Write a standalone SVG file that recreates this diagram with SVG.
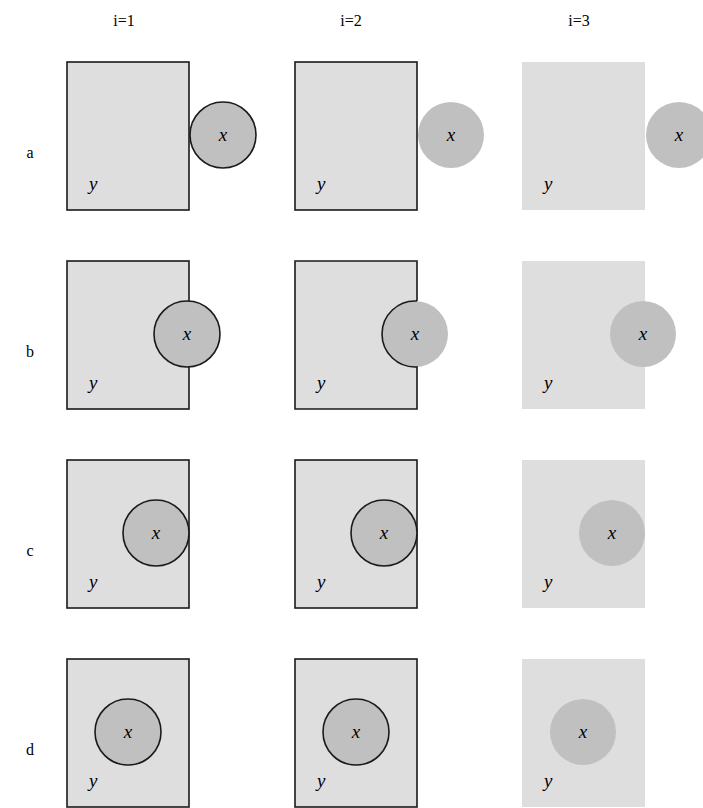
<svg xmlns="http://www.w3.org/2000/svg" width="703" height="808" viewBox="0 0 703 808">
  <style>
    .y { fill: #dedede; }
    .x { fill: #c0c0c0; }
    .ln { stroke: #1a1a1a; stroke-width: 1.6; }
    .edge { fill: none; stroke: #1a1a1a; stroke-width: 1.6; }
    .var { font-family: "Liberation Serif", "Times New Roman", serif; font-style: italic; font-size: 19px; fill: #000; }
    .head { font-family: "Liberation Serif", "Times New Roman", serif; font-size: 16px; fill: #000; }
  </style>

  <!-- column headings -->
  <g id="headings">
    <text class="head" x="124" y="26" text-anchor="middle">i=1</text>
    <text class="head" x="351" y="26" text-anchor="middle">i=2</text>
    <text class="head" x="579" y="26" text-anchor="middle">i=3</text>
  </g>

  <!-- row letters -->
  <g id="rows">
    <text class="head" x="30" y="158" text-anchor="middle">a</text>
    <text class="head" x="30" y="357" text-anchor="middle">b</text>
    <text class="head" x="30" y="556" text-anchor="middle">c</text>
    <text class="head" x="30" y="755" text-anchor="middle">d</text>
  </g>

  <!-- ===== row a : x outside y ===== -->
  <g id="a1">
    <rect class="y ln" x="67" y="62" width="122" height="148"/>
    <circle class="x ln" cx="223" cy="135" r="33"/>
    <text class="var" x="89" y="190">y</text>
    <text class="var" x="223" y="141" text-anchor="middle">x</text>
  </g>
  <g id="a2">
    <rect class="y ln" x="295" y="62" width="122" height="148"/>
    <circle class="x" cx="451" cy="135" r="33"/>
    <text class="var" x="317" y="190">y</text>
    <text class="var" x="451" y="141" text-anchor="middle">x</text>
  </g>
  <g id="a3">
    <rect class="y" x="522" y="62" width="123" height="148"/>
    <circle class="x" cx="679" cy="135" r="33"/>
    <text class="var" x="544" y="190">y</text>
    <text class="var" x="679" y="141" text-anchor="middle">x</text>
  </g>

  <!-- ===== row b : x straddles the edge of y ===== -->
  <g id="b1">
    <rect class="y ln" x="67" y="261" width="122" height="148"/>
    <circle class="x ln" cx="187" cy="334" r="33"/>
    <text class="var" x="89" y="389">y</text>
    <text class="var" x="187" y="340" text-anchor="middle">x</text>
  </g>
  <g id="b2">
    <rect class="y" x="295" y="261" width="122" height="148"/>
    <circle class="x" cx="415" cy="334" r="33"/>
    <!-- boundary of y minus x -->
    <path class="edge" d="M417,301.06 V261 H295 V409 H417 V366.94 A33,33 0 1 1 417,301.06"/>
    <text class="var" x="317" y="389">y</text>
    <text class="var" x="415" y="340" text-anchor="middle">x</text>
  </g>
  <g id="b3">
    <rect class="y" x="522" y="261" width="123" height="148"/>
    <circle class="x" cx="643" cy="334" r="33"/>
    <text class="var" x="544" y="389">y</text>
    <text class="var" x="643" y="340" text-anchor="middle">x</text>
  </g>

  <!-- ===== row c : x inside y, touching its edge ===== -->
  <g id="c1">
    <rect class="y ln" x="67" y="460" width="122" height="148"/>
    <circle class="x ln" cx="156" cy="533" r="33"/>
    <text class="var" x="89" y="588">y</text>
    <text class="var" x="156" y="539" text-anchor="middle">x</text>
  </g>
  <g id="c2">
    <rect class="y ln" x="295" y="460" width="122" height="148"/>
    <circle class="x ln" cx="384" cy="533" r="33"/>
    <text class="var" x="317" y="588">y</text>
    <text class="var" x="384" y="539" text-anchor="middle">x</text>
  </g>
  <g id="c3">
    <rect class="y" x="522" y="460" width="123" height="148"/>
    <circle class="x" cx="612" cy="533" r="33"/>
    <text class="var" x="544" y="588">y</text>
    <text class="var" x="612" y="539" text-anchor="middle">x</text>
  </g>

  <!-- ===== row d : x well inside y ===== -->
  <g id="d1">
    <rect class="y ln" x="67" y="659" width="122" height="148"/>
    <circle class="x ln" cx="128" cy="732" r="33"/>
    <text class="var" x="89" y="787">y</text>
    <text class="var" x="128" y="738" text-anchor="middle">x</text>
  </g>
  <g id="d2">
    <rect class="y ln" x="295" y="659" width="122" height="148"/>
    <circle class="x ln" cx="356" cy="732" r="33"/>
    <text class="var" x="317" y="787">y</text>
    <text class="var" x="356" y="738" text-anchor="middle">x</text>
  </g>
  <g id="d3">
    <rect class="y" x="522" y="659" width="123" height="148"/>
    <circle class="x" cx="583" cy="732" r="33"/>
    <text class="var" x="544" y="787">y</text>
    <text class="var" x="583" y="738" text-anchor="middle">x</text>
  </g>
</svg>
